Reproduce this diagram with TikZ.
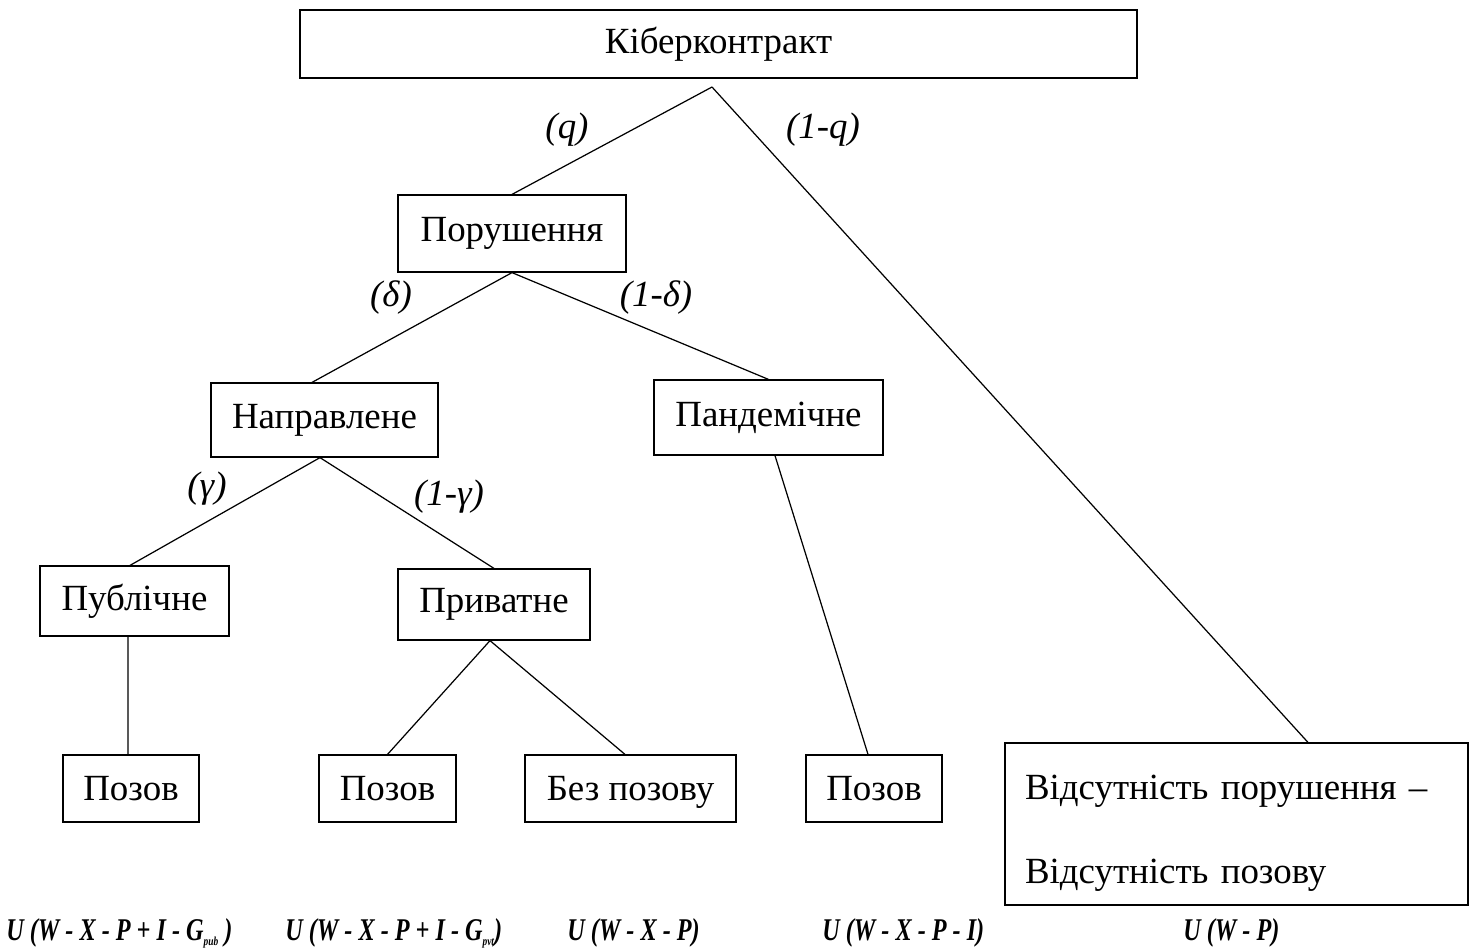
\documentclass[tikz,border=0pt]{standalone}
\usepackage{fontspec}
\setmainfont{Liberation Serif}
\usetikzlibrary{positioning}
\newcommand{\sub}[1]{\raisebox{-0.35ex}{\fontsize{7}{7}\selectfont #1}}
\newcommand{\pay}[1]{\scalebox{0.765}[1]{#1}}

\begin{document}
\begin{tikzpicture}[
    x=0.02cm, y=-0.02cm,
    box/.style={draw=black, line width=0.7pt, rectangle, inner sep=0pt, align=center, font=\fontsize{21}{25}\selectfont},
    prob/.style={inner sep=0pt, font=\fontsize{21}{25}\selectfont\itshape},
    payoff/.style={anchor=base west, inner sep=0pt, font=\fontsize{18}{21}\selectfont\bfseries\itshape},
    link/.style={draw=black, line width=0.7pt}
]
  \useasboundingbox (0,0) rectangle (1476,951);

  % Nodes
  \node (contract) [box, minimum width=16.74cm, minimum height=1.36cm] at (718.5,44) {Кіберконтракт};
  \coordinate (fork) at (712,87);
  \node (breach) [box, minimum width=4.56cm, minimum height=1.54cm] at (512,233.5) {Порушення};
  \node (targeted) [box, minimum width=4.54cm, minimum height=1.48cm] at (324.5,420) {Направлене};
  \node (pandemic) [box, minimum width=4.58cm, minimum height=1.5cm] at (768.5,417.5) {Пандемічне};
  \node (public) [box, minimum width=3.78cm, minimum height=1.4cm] at (134.5,601) {Публічне};
  \node (private) [box, minimum width=3.84cm, minimum height=1.42cm] at (494,604.5) {Приватне};
  \node (suitA) [box, minimum width=2.72cm, minimum height=1.34cm] at (131,788.5) {Позов};
  \node (suitB) [box, minimum width=2.74cm, minimum height=1.34cm] at (387.5,788.5) {Позов};
  \node (nosuit) [box, text depth=0pt, minimum width=4.22cm, minimum height=1.34cm] at (630.5,788.5) {Без позову};
  \node (suitC) [box, minimum width=2.72cm, minimum height=1.34cm] at (874,788.5) {Позов};
  \node (nobreach) [box, align=left, font=\fontsize{21}{47.8}\selectfont, text width=8.46cm, inner xsep=0.4cm, minimum width=9.26cm, minimum height=3.24cm] at (1236.5,824) {\rule{0pt}{24pt}Відсутність порушення –\\Відсутність позову};

  % Branches
  \draw [link] (fork) -- (breach.north);
  \draw [link] (fork) -- ([xshift=1.43cm]nobreach.north);
  \draw [link] (breach.south) -- ([xshift=-0.25cm]targeted.north);
  \draw [link] (breach.south) -- (pandemic.north);
  \draw [link] ([xshift=-0.09cm]targeted.south) -- ([xshift=-0.09cm]public.north);
  \draw [link] ([xshift=-0.09cm]targeted.south) -- (private.north);
  \draw [link] ([xshift=-0.13cm]public.south) -- ([xshift=-0.06cm]suitA.north);
  \draw [link] ([xshift=-0.08cm]private.south) -- (suitB.north);
  \draw [link] ([xshift=-0.08cm]private.south) -- ([xshift=-0.11cm]nosuit.north);
  \draw [link] ([xshift=0.13cm]pandemic.south) -- ([xshift=-0.12cm]suitC.north);

  % Probabilities
  \node (pq) [prob] at (567,130) {(q)};
  \node (pnq) [prob] at (823,130) {(1-q)};
  \node (pd) [prob] at (391,298) {(δ)};
  \node (pnd) [prob] at (656,298) {(1-δ)};
  \node (pg) [prob] at (207,489) {(γ)};
  \node (png) [prob] at (449,497) {(1-γ)};

  % Payoffs
  \node (uA) [payoff] at (6,940) {\pay{U (W - X - P + I - G\sub{pub} )}};
  \node (uB) [payoff] at (285,940) {\pay{U (W - X - P + I - G\sub{pvt})}};
  \node (uC) [payoff] at (567,940) {\pay{U (W - X - P)}};
  \node (uD) [payoff] at (822,940) {\pay{U (W - X - P - I)}};
  \node (uE) [payoff] at (1183,940) {\pay{U (W - P)}};
\end{tikzpicture}
\end{document}
